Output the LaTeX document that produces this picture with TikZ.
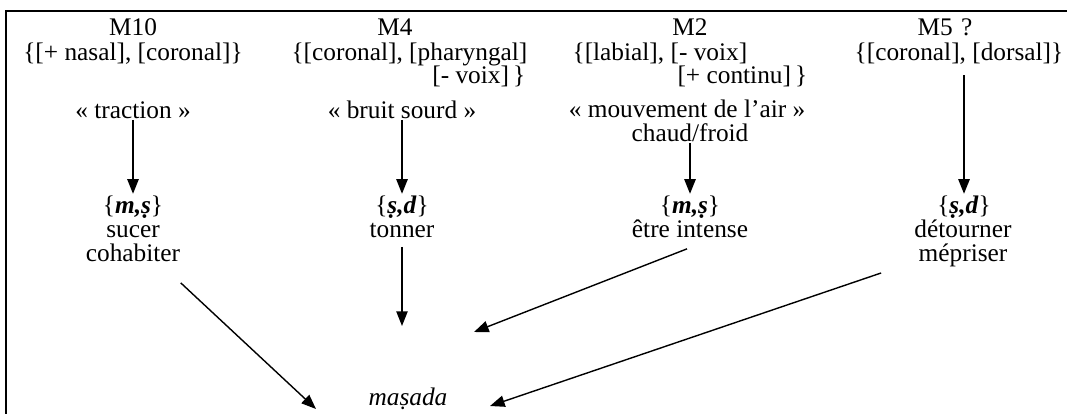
\documentclass[tikz,border=0pt]{standalone}
\usepackage{fontspec}
\setmainfont{Liberation Serif}
\usetikzlibrary{arrows.meta}
\tikzset{
  txt/.style={inner sep=1pt, anchor=base, font=\fontsize{19}{22}\selectfont},
  arr/.style={-{Triangle[length=11pt,width=8.5pt]}, line width=1.2pt},
  darr/.style={arr, line width=1.05pt},
  frame/.style={line width=1.5pt}
}
\newcommand{\bi}[1]{\textbf{\textit{#1}}}
\begin{document}
\begin{tikzpicture}[x=0.75pt,y=-0.75pt]
\useasboundingbox (0,0) rectangle (1067,414);
\draw[frame] (1067,11) -- (6,11) -- (6,414);

% column 1
\node[txt] (m10) at (133,35) {M10};
\node[txt] (f10) at (133,60) {\{[+ nasal], [coronal]\}};
\node[txt] (trac) at (133,118) {« traction »};
\node[txt] (s10) at (133,213) {\{\bi{m,ṣ}\}};
\node[txt] (suc) at (133,237) {sucer};
\node[txt] (coh) at (133,261) {cohabiter};

% column 2
\node[txt] (m4) at (395,35) {M4};
\node[txt, anchor=base east] (f4a) at (529,60) {\{[coronal], [pharyngal]};
\node[txt, anchor=base east] (f4b) at (527,83) {[- voix]\,\}};
\node[txt] (bs) at (402,118) {« bruit sourd »};
\node[txt] (s4) at (402,213) {\{\bi{ṣ,d}\}};
\node[txt] (ton) at (402,237) {tonner};

% column 3
\node[txt] (m2) at (690,35) {M2};
\node[txt, anchor=base west] (f2a) at (571,60) {\{[labial], [- voix]};
\node[txt, anchor=base east] (f2b) at (809,83) {[+ continu]\,\}};
\node[txt] (mv) at (687,117) {« mouvement de l’air »};
\node[txt] (cf) at (690,141) {chaud/froid};
\node[txt] (s2) at (690,213) {\{\bi{m,ṣ}\}};
\node[txt] (ei) at (690,237) {être intense};

% column 4
\node[txt] (m5) at (945,35) {M5\,\,?};
\node[txt] (f5) at (959,60) {\{[coronal], [dorsal]\}};
\node[txt] (s5) at (964,213) {\{\bi{ṣ,d}\}};
\node[txt] (det) at (963,237) {détourner};
\node[txt] (mep) at (963,261) {mépriser};

% result
\node[txt, font=\fontsize{19}{22}\selectfont\itshape] (mas) at (408,405) {maṣada};

% free ends near the result
\coordinate (t1) at (316,409);
\coordinate (t2) at (402,326);
\coordinate (t3) at (474,332);
\coordinate (t4) at (490,406);

% vertical arrows
\draw[arr] (trac) -- (s10);
\draw[arr] (bs.south -| s4) -- (s4);
\draw[arr] (cf) -- (s2);
\draw[arr] ([shift={(0,10)}]f5.south -| s5) -- (s5);

% arrows to the result
\draw[darr] ([shift={(-1,20)}]coh.south east) -- (t1);
\draw[darr] ([shift={(0,8)}]ton.south) -- (t2);
\draw[darr] ([shift={(-3,10)}]ei.south) -- (t3);
\draw[darr] ([shift={(-36,5)}]mep.south west) -- (t4);
\end{tikzpicture}
\end{document}
